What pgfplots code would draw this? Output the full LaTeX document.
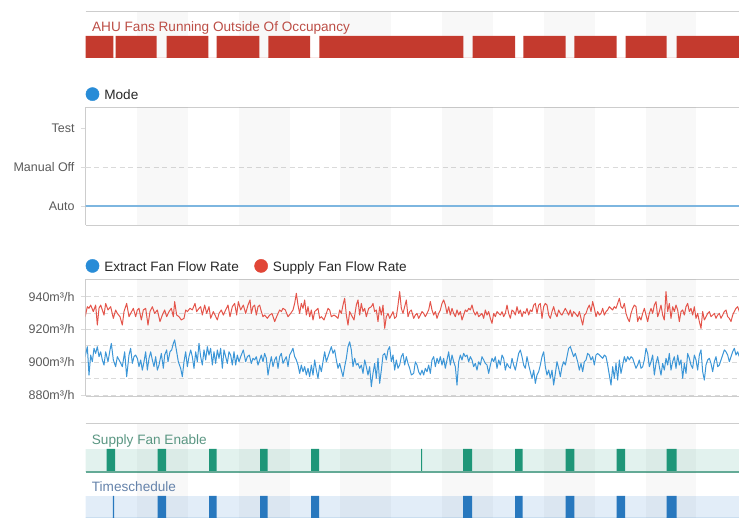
\documentclass[border=0pt]{standalone}
\usepackage{fontspec}
\setmainfont{Liberation Sans}
\usepackage{pgfplots}
\pgfplotsset{compat=1.18}
\definecolor{ahured}{RGB}{196,58,46}
\definecolor{ahutitle}{RGB}{188,78,70}
\definecolor{modeline}{RGB}{125,182,224}
\definecolor{modedot}{RGB}{40,140,215}
\definecolor{extline}{RGB}{60,150,215}
\definecolor{supline}{RGB}{228,85,75}
\definecolor{extdot}{RGB}{40,140,215}
\definecolor{supdot}{RGB}{225,70,55}
\definecolor{sfepulse}{RGB}{30,150,120}
\definecolor{sfeband}{RGB}{226,242,238}
\definecolor{sfeline}{RGB}{100,170,150}
\definecolor{sfetitle}{RGB}{90,150,130}
\definecolor{tspulse}{RGB}{40,120,190}
\definecolor{tsband}{RGB}{226,237,248}
\definecolor{tstitle}{RGB}{100,130,170}
\definecolor{gridc}{RGB}{218,218,218}
\definecolor{borderc}{RGB}{205,205,205}
\definecolor{ticklab}{RGB}{90,90,90}
\definecolor{legtext}{RGB}{40,40,40}
\newcommand\legfont{\fontsize{13.6}{16}\selectfont}
\newcommand\tickfont{\fontsize{12.5}{15}\selectfont}
\newcommand\stripes{%
\fill[black, fill opacity=0.026] ({axis cs:30.6,0}|-{rel axis cs:0,0}) rectangle ({axis cs:61.1,0}|-{rel axis cs:0,1});
\fill[black, fill opacity=0.026] ({axis cs:91.6,0}|-{rel axis cs:0,0}) rectangle ({axis cs:122.1,0}|-{rel axis cs:0,1});
\fill[black, fill opacity=0.026] ({axis cs:152.6,0}|-{rel axis cs:0,0}) rectangle ({axis cs:183.2,0}|-{rel axis cs:0,1});
\fill[black, fill opacity=0.026] ({axis cs:213.7,0}|-{rel axis cs:0,0}) rectangle ({axis cs:244.2,0}|-{rel axis cs:0,1});
\fill[black, fill opacity=0.026] ({axis cs:274.7,0}|-{rel axis cs:0,0}) rectangle ({axis cs:305.2,0}|-{rel axis cs:0,1});
\fill[black, fill opacity=0.026] ({axis cs:335.7,0}|-{rel axis cs:0,0}) rectangle ({axis cs:366.2,0}|-{rel axis cs:0,1});
}
\pgfplotsset{panel/.style={scale only axis, width=653.5pt, xmin=-0.3, xmax=391.8, anchor=south west, clip mode=individual},
  framed/.style={axis x line=box, axis y line=left, axis line style={borderc, line width=0.8pt, -}, xtick=\empty,
    tick align=outside, major tick length=4.5pt, minor tick length=0pt, tick style={gridc, line width=0.8pt},
    yticklabel style={font=\tickfont, text=ticklab, xshift=-3pt},
    legend columns=-1,
    legend style={at={(0,1)}, anchor=south west, draw=none, fill=none, inner sep=0pt, font=\legfont, text=legtext,
      nodes={inner sep=0pt}, /tikz/every odd column/.append style={column sep=5pt},
      /tikz/every even column/.append style={column sep=15.5pt}}}}
\begin{document}
\begin{tikzpicture}[x=1pt,y=1pt]
% ---------- AHU fans running outside of occupancy ----------
\begin{axis}[panel, at={(85.5pt,460pt)}, height=46pt, ymin=0, ymax=2.0909, hide axis]
\stripes
\addplot[const plot, fill=ahured, draw=none] coordinates {(-1,1) (16.4,0) (17.8,1) (42.4,0) (48.4,1) (73.4,0) (78.4,1) (104,0) (109.4,1) (134.4,0) (140,1) (226.4,0) (232,1) (257.4,0) (262.4,1) (287.8,0) (293,1) (318.4,0) (323.8,1) (348.4,0) (354.4,1) (392,1)} \closedcycle;
\draw[borderc, line width=1pt] (rel axis cs:0,1) -- (rel axis cs:1,1);
\node[anchor=base west, inner sep=0pt, text=ahutitle, font=\legfont] at (rel axis cs:0.0099,0.572) {AHU Fans Running Outside Of Occupancy};
\end{axis}
% ---------- Mode ----------
\begin{axis}[panel, framed, at={(85.5pt,293pt)}, height=118pt, ymin=-0.49, ymax=2.54,
  ytick={0,1,2}, yticklabels={Auto,Manual Off,Test},
  extra y ticks={1}, extra y tick labels={}, extra y tick style={grid=major, major grid style={gridc, line width=0.8pt, dash pattern=on 5pt off 3.5pt}},
  legend style={yshift=5.8pt}]
\addlegendimage{legend image code/.code={\fill[modedot] (6.6pt,1.2pt) circle (6.6pt);}}
\addlegendentry{Mode}
\stripes
\addplot[modeline, line width=1.8pt] coordinates {(-1,0) (392,0)};
\end{axis}
% ---------- Flow rates ----------
\begin{axis}[panel, framed, at={(85.5pt,122pt)}, height=116.5pt, ymin=879.4, ymax=950.5,
  ytick={880,900,920,940}, yticklabels={880m³/h,900m³/h,920m³/h,940m³/h}, minor ytick={890,910,930},
  ymajorgrids, yminorgrids, grid style={gridc, line width=0.8pt, dash pattern=on 5pt off 3.5pt},
  legend style={yshift=5.9pt}]
\addlegendimage{legend image code/.code={\fill[extdot] (6.6pt,1.8pt) circle (6.6pt);}}
\addlegendentry{Extract Fan Flow Rate}
\addlegendimage{legend image code/.code={\fill[supdot] (6.6pt,1.8pt) circle (6.6pt);}}
\addlegendentry{Supply Fan Flow Rate}
\stripes
\addplot[supline, line width=1pt, line join=round] coordinates {
(-0.5,927.8) (0.8,933.9) (1.8,932.9) (2.8,934.9) (4.4,930.9) (5.8,934.9) (6.8,922.7) (7.8,932.9) (8.8,934.9) (9.8,931.9) (10.8,928.8) (11.8,935.9) (13.2,931.9) (14.8,933.9) (16.4,926.8) (17.8,931.9) (18.8,929.8) (20.4,927.8) (21.8,922.7) (22.8,930.9) (24.4,935.9) (25.8,927.8) (26.8,929.8) (28.4,932.9) (29.8,927.8) (30.8,931.9) (31.8,932.9) (33.2,925.8) (34.4,931.9) (35.8,932.9) (37.2,922.7) (38.4,930.9) (39.8,933.9) (41.2,929.8) (42.8,931.9) (44.4,924.8) (45.8,928.8) (47.2,931.9) (48.4,927.8) (49.8,930.9) (51.2,932.9) (52.4,927.8) (53.2,937.0) (54.4,928.8) (55.8,927.8) (57.2,925.8) (58.8,926.8) (59.8,931.9) (60.8,930.9) (62.4,932.9) (63.8,931.9) (65.4,935.9) (66.4,930.9) (67.8,932.9) (68.8,933.9) (69.8,928.8) (71.2,934.9) (72.4,929.8) (73.8,933.9) (74.8,926.8) (76.4,930.9) (77.4,928.8) (78.8,925.8) (79.8,929.8) (81.2,931.9) (82.4,928.8) (83.8,931.9) (85.2,934.9) (86.4,927.8) (87.8,933.9) (89.2,935.9) (90.4,928.8) (91.4,937.0) (92.8,931.9) (94.4,934.9) (95.8,929.8) (97.2,934.9) (98.4,938.0)
(99.2,929.8) (100.2,933.9) (101.2,934.9) (102.2,928.8) (103.2,933.9) (104.2,934.9) (105.2,930.9) (106.2,927.8) (107.2,928.8) (108.8,926.8) (110.2,928.8) (111.6,929.8) (113.2,924.8) (114.8,928.8) (116.2,931.9) (117.2,930.9) (118.2,932.9) (119.6,931.9) (121.2,927.8) (122.8,929.8) (124.2,931.9) (125.2,935.9) (126.2,942.1) (127.2,934.9) (128.2,929.8) (129.2,935.9) (130.2,932.9) (131.2,938.0) (132.2,928.8) (133.2,933.9) (134.2,927.8) (135.2,931.9) (136.2,925.8) (137.2,930.9) (139.2,932.9) (140.2,926.8) (141.2,927.8) (142.8,925.8) (144.2,929.8) (145.2,932.9) (146.2,931.9) (147.2,927.8) (148.8,928.8) (150.2,927.8) (151.2,926.8) (152.2,931.9) (153.2,929.8) (154.2,934.9) (155.2,939.0) (156.2,928.8) (157.2,922.7) (158.2,930.9) (159.2,928.8) (160.8,925.8) (162.2,934.9) (163.2,938.0) (164.2,928.8) (165.2,935.9) (166.2,930.9) (167.2,932.9) (168.2,927.8) (169.6,932.9) (171.2,933.9) (172.2,935.9) (173.2,930.9) (174.2,931.9) (175.2,924.8) (176.2,933.9) (177.2,928.8) (178.2,934.9) (179.2,920.7) (180.2,927.8) (181.2,929.8) (182.2,926.8) (183.2,928.8) (184.2,930.9) (185.2,926.8) (186.2,927.8) (187.2,934.9) (188.2,943.1) (189.2,932.9) (190.2,929.8) (191.2,933.9) (192.2,938.0) (193.2,927.8) (194.2,930.9) (195.2,931.9)
(196.6,926.8) (197.6,928.8) (198.6,929.8) (199.6,926.8) (200.6,928.8) (201.6,930.9) (202.6,929.8) (203.6,927.8) (204.6,929.8) (205.6,931.9) (206.6,937.0) (207.6,931.9) (208.6,928.8) (209.6,930.9) (210.6,926.8) (211.6,929.8) (212.6,931.9) (213.6,935.9) (214.6,938.0) (215.6,934.9) (216.6,929.8) (217.6,933.9) (218.6,928.8) (219.6,932.9) (220.6,929.8) (221.6,927.8) (222.6,931.9) (223.6,928.8) (224.6,930.9) (225.6,925.8) (226.6,928.8) (227.6,931.9) (228.6,930.9) (229.6,932.9) (230.6,931.9) (231.6,934.9) (232.6,930.9) (233.6,928.8) (234.6,930.9) (235.6,927.8) (236.6,928.8) (237.6,929.8) (238.6,926.8) (239.6,931.9) (240.6,928.8) (241.6,930.9) (242.6,926.8) (243.6,923.7) (244.6,929.8) (245.6,927.8) (246.6,930.9) (247.6,929.8) (248.6,928.8) (249.6,930.9) (250.6,927.8) (251.6,929.8) (252.6,934.9) (253.6,929.8) (254.6,926.8) (255.6,931.9) (256.6,930.9) (257.6,928.8) (258.6,933.9) (259.6,929.8) (260.6,931.9) (261.6,927.8) (262.6,930.9) (263.6,929.8) (264.6,932.9) (265.6,928.8) (266.6,931.9) (267.6,930.9) (268.6,934.9) (269.6,935.9) (270.6,929.8) (271.6,934.9) (272.6,935.9) (273.6,926.8) (274.6,933.9) (275.6,935.9) (276.6,934.9) (277.6,928.8) (278.6,926.8) (279.6,930.9) (280.6,933.9) (281.6,929.8) (282.6,927.8) (283.6,931.9) (284.6,929.8) (285.6,928.8) (286.6,930.9) (287.6,932.9) (288.6,930.9) (289.6,928.8) (290.6,931.9) (291.6,927.8) (292.6,930.9) (293.6,929.8)
(295,927.8) (296,930.9) (297,926.8) (298,922.7) (299,928.8) (300,929.8) (301,932.9) (302,934.9) (303,930.9) (304,937.0) (305,932.9) (306,927.8) (307,930.9) (308,928.8) (309,929.8) (310,932.9) (311,928.8) (312,930.9) (313,931.9) (314,933.9) (315,932.9) (316,931.9) (317,933.9) (318,932.9) (319,935.9) (320,939.0) (321,933.9) (322,932.9) (323,935.9) (324,929.8) (325,926.8) (326,924.8) (327,929.8) (328,932.9) (329,934.9) (330,933.9) (331,924.8) (332,927.8) (333,925.8) (334,929.8) (335,932.9) (336,928.8) (337,924.8) (338,929.8) (339,932.9) (340,929.8) (341,934.9) (342,937.0) (343,927.8) (344,930.9) (345,934.9) (346,928.8) (347,925.8) (348,943.1) (349,930.9) (350,935.9) (351,926.8) (352,933.9) (353,930.9) (354,934.9) (355,931.9) (356,924.8) (357,930.9) (358,931.9) (359,928.8) (360,933.9) (361,935.9) (362,930.9) (363,932.9) (364,928.8) (365,933.9) (366,926.8) (367,929.8) (368,924.8) (369,920.7) (370,930.9) (371,925.8) (372,927.8) (373,929.8) (374,930.9) (375,927.8) (376,928.8) (377,929.8) (378,926.8) (379,928.8) (380,929.8) (381,926.8) (382,928.8) (383,930.9) (384,931.9) (385,927.8) (386,926.8) (387,924.8) (388,928.8) (389,930.9) (390,932.9) (391,933.9) (392,930.9)};
\addplot[extline, line width=1pt, line join=round] coordinates {
(-0.5,903.4) (0.8,909.5) (1.8,892.2) (2.8,904.4) (3.8,900.3) (4.8,908.5) (5.8,905.4) (6.8,909.5) (7.8,903.4) (8.8,906.4) (9.8,901.4) (10.8,898.3) (11.8,906.4) (13.2,900.3) (14.4,907.5) (15.2,911.5) (16.4,901.4) (17.8,897.3) (18.8,903.4) (20.4,900.3) (21.8,897.3) (23.2,906.4) (24.4,891.2) (25.8,904.4) (26.8,908.5) (27.8,899.3) (28.8,903.4) (29.8,904.4) (30.8,902.4) (31.8,897.3) (32.8,901.4) (33.8,895.2) (34.8,900.3) (35.8,906.4) (36.8,895.2) (37.8,902.4) (38.8,906.4) (39.8,901.4) (40.8,897.3) (41.8,903.4) (42.8,895.2) (43.8,898.3) (45.2,905.4) (46.4,896.3) (47.2,904.4) (48.4,907.5) (49.2,900.3) (50.4,906.4) (51.4,907.5) (52.4,911.5) (53.2,913.6) (54.4,906.4) (55.4,900.3) (56.8,896.3) (57.8,891.2) (58.8,900.3) (59.8,906.4) (60.8,897.3) (61.8,903.4) (62.8,907.5) (63.8,903.4) (64.8,896.3) (65.8,906.4) (66.8,900.3) (67.8,911.5) (68.8,903.4) (69.8,898.3) (70.8,907.5) (71.8,901.4) (72.8,909.5) (73.8,904.4) (74.8,908.5) (75.8,898.3) (76.8,906.4) (77.8,899.3) (78.8,907.5) (79.8,902.4) (80.8,908.5) (81.8,896.3) (82.8,907.5) (83.8,903.4) (84.8,899.3) (85.8,906.4) (86.8,904.4) (87.8,898.3) (88.8,906.4) (89.8,898.3) (90.8,904.4) (91.8,900.3) (92.8,903.4) (94.4,907.5) (95.8,900.3) (96.8,903.4) (98.0,904.4)
(99.2,899.3) (100.2,902.4) (101.2,901.4) (102.2,903.4) (103.2,898.3) (104.2,901.4) (105.2,904.4) (106.2,900.3) (107.2,905.4) (108.2,902.4) (109.2,892.2) (110.2,898.3) (111.2,903.4) (112.2,897.3) (113.2,901.4) (114.2,903.4) (115.2,896.3) (116.2,903.4) (117.2,905.4) (118.2,899.3) (119.2,901.4) (120.2,903.4) (121.2,897.3) (122.2,904.4) (123.2,906.4) (124.2,908.5) (125.2,903.4) (126.2,901.4) (127.2,898.3) (128.2,893.2) (129.2,898.3) (130.2,894.2) (131.2,897.3) (132.2,892.2) (133.2,896.3) (134.2,891.2) (135.2,898.3) (136.2,892.2) (137.2,901.4) (138.2,895.2) (139.2,890.2) (140.2,898.3) (141.2,894.2) (142.2,900.3) (143.2,906.4) (144.2,900.3) (145.2,903.4) (146.2,906.4) (147.2,909.5) (148.2,905.4) (149.2,907.5) (150.2,901.4) (151.2,896.3) (152.2,899.3) (153.2,895.2) (154.2,891.2) (155.2,897.3) (156.2,902.4) (157.2,909.5) (158.2,912.5) (159.2,907.5) (160.2,897.3) (161.2,902.4) (162.2,898.3) (163.2,899.3) (164.2,896.3) (165.2,898.3) (166.2,893.2) (167.2,901.4) (168.2,897.3) (169.2,892.2) (170.2,897.3) (171.2,885.1) (172.2,893.2) (173.2,899.3) (174.2,890.2) (175.2,902.4) (176.2,887.1) (177.2,895.2) (178.2,904.4) (179.2,905.4) (180.2,901.4) (181.2,907.5) (182.2,909.5) (183.2,900.3) (184.2,904.4) (185.2,895.2) (186.2,901.4) (187.2,896.3) (188.2,898.3) (189.2,903.4) (190.2,905.4) (191.2,898.3) (192.2,903.4) (193.2,899.3) (194.2,896.3) (195.2,892.2)
(196.6,893.2) (197.6,900.3) (198.6,898.3) (199.6,894.2) (200.6,892.2) (201.6,895.2) (202.6,892.2) (203.6,896.3) (204.6,894.2) (205.6,898.3) (206.6,893.2) (207.6,901.4) (208.6,903.4) (209.6,897.3) (210.6,902.4) (211.6,899.3) (212.6,903.4) (213.6,898.3) (214.6,902.4) (215.6,896.3) (216.6,901.4) (217.6,906.4) (218.6,898.3) (219.6,904.4) (220.6,900.3) (221.6,897.3) (222.6,886.1) (223.6,900.3) (224.6,904.4) (225.6,901.4) (226.6,905.4) (227.6,903.4) (228.6,904.4) (229.6,900.3) (230.6,903.4) (231.6,901.4) (232.6,897.3) (233.6,899.3) (234.6,895.2) (235.6,900.3) (236.6,898.3) (237.6,903.4) (238.6,901.4) (239.6,899.3) (240.6,898.3) (241.6,893.2) (242.6,898.3) (243.6,902.4) (244.6,900.3) (245.6,903.4) (246.6,896.3) (247.6,901.4) (248.6,898.3) (249.6,904.4) (250.6,902.4) (251.6,895.2) (252.6,899.3) (253.6,897.3) (254.6,896.3) (255.6,902.4) (256.6,898.3) (257.6,895.2) (258.6,900.3) (259.6,905.4) (260.6,907.5) (261.6,903.4) (262.6,898.3) (263.6,896.3) (264.6,903.4) (265.6,898.3) (266.6,894.2) (267.6,890.2) (268.6,895.2) (269.6,887.1) (270.6,892.2) (271.6,894.2) (272.6,898.3) (273.6,903.4) (274.6,906.4) (275.6,897.3) (276.6,892.2) (277.6,895.2) (278.6,890.2) (279.6,895.2) (280.6,886.1) (281.6,893.2) (282.6,900.3) (283.6,896.3) (284.6,891.2) (285.6,897.3) (286.6,900.3) (287.6,898.3) (288.6,903.4) (289.6,908.5) (290.6,909.5) (291.6,906.4) (292.6,903.4) (293.6,905.4)
(295,900.3) (296,895.2) (297,899.3) (298,894.2) (299,900.3) (300,901.4) (301,905.4) (302,904.4) (303,901.4) (304,903.4) (305,898.3) (306,904.4) (307,905.4) (308,904.4) (309,903.4) (310,902.4) (311,904.4) (312,903.4) (313,898.3) (314,892.2) (315,886.1) (316,897.3) (317,890.2) (318,899.3) (319,889.1) (320,901.4) (321,893.2) (322,898.3) (323,903.4) (324,900.3) (325,903.4) (326,901.4) (327,903.4) (328,902.4) (329,899.3) (330,896.3) (331,898.3) (332,901.4) (333,896.3) (334,897.3) (335,901.4) (336,908.5) (337,905.4) (338,897.3) (339,900.3) (340,904.4) (341,892.2) (342,899.3) (343,903.4) (344,897.3) (345,892.2) (346,899.3) (347,895.2) (348,902.4) (349,898.3) (350,905.4) (351,895.2) (352,900.3) (353,903.4) (354,896.3) (355,904.4) (356,898.3) (357,901.4) (358,890.2) (359,899.3) (360,893.2) (361,905.4) (362,902.4) (363,898.3) (364,896.3) (365,904.4) (366,901.4) (367,895.2) (368,904.4) (369,907.5) (370,894.2) (371,889.1) (372,898.3) (373,901.4) (374,902.4) (375,899.3) (376,894.2) (377,900.3) (378,903.4) (379,897.3) (380,898.3) (381,901.4) (382,904.4) (383,907.5) (384,906.4) (385,904.4) (386,900.3) (387,903.4) (388,906.4) (389,908.5) (390,904.4) (391,906.4) (392,903.4)};
\end{axis}
% ---------- Supply Fan Enable ----------
\begin{axis}[panel, at={(85.5pt,46pt)}, height=48pt, ymin=0, ymax=2.087, hide axis]
\addplot[fill=sfeband, draw=none] coordinates {(-1,1) (392,1)} \closedcycle;
\stripes
\addplot[const plot, fill=sfepulse, draw=none] coordinates {(-1,0) (12.4,1) (17.4,0) (43,1) (48,0) (73.8,1) (78.4,0) (104.4,1) (109,0) (135,1) (139.8,0) (201.1,1) (201.7,0) (226.2,1) (231.6,0) (257.4,1) (262,0) (287.8,1) (293,0) (318.4,1) (323.4,0) (348.4,1) (354.4,0) (392,0)} \closedcycle;
\draw[sfeline, line width=1.4pt] (rel axis cs:0,0) -- (rel axis cs:1,0);
\draw[borderc, line width=1pt] (rel axis cs:0,1) -- (rel axis cs:1,1);
\node[anchor=base west, inner sep=0pt, text=sfetitle, font=\legfont] at (rel axis cs:0.0095,0.583) {Supply Fan Enable};
\end{axis}
% ---------- Timeschedule ----------
\begin{axis}[panel, at={(85.5pt,0pt)}, height=46pt, ymin=0, ymax=2.0909, hide axis]
\addplot[fill=tsband, draw=none] coordinates {(-1,1) (392,1)} \closedcycle;
\stripes
\addplot[const plot, fill=tspulse, draw=none] coordinates {(-1,0) (16.1,1) (16.9,0) (43,1) (48,0) (73.8,1) (78.4,0) (104.4,1) (109,0) (135,1) (139.8,0) (226.2,1) (231.6,0) (257.4,1) (262,0) (287.8,1) (293,0) (318.4,1) (323.4,0) (348.4,1) (354.4,0) (392,0)} \closedcycle;
\node[anchor=base west, inner sep=0pt, text=tstitle, font=\legfont] at (rel axis cs:0.0095,0.572) {Timeschedule};
\end{axis}
\pgfresetboundingbox
\path[use as bounding box] (0,0) rectangle (739,518);
\end{tikzpicture}
\end{document}
